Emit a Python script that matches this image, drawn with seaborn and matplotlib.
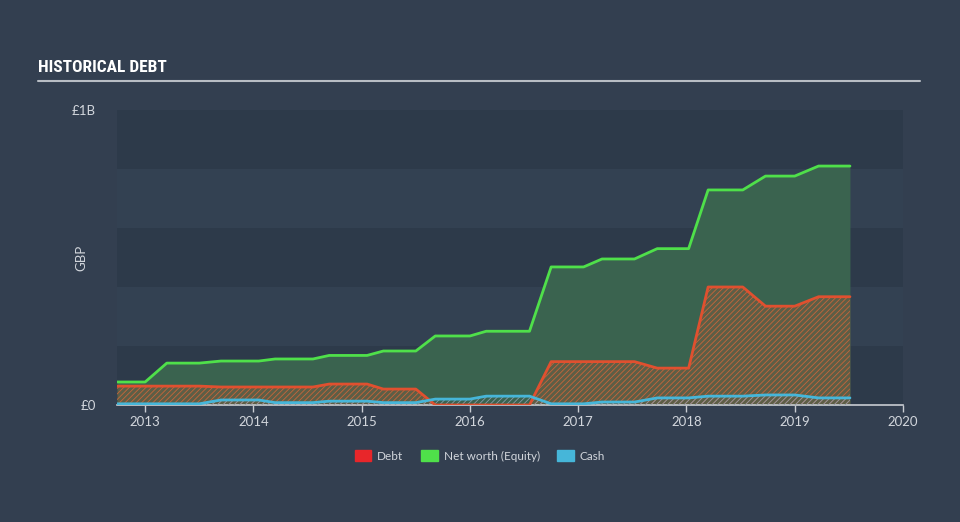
import matplotlib
matplotlib.use("Agg")
import matplotlib.pyplot as plt
import matplotlib.patches as mpatches
from matplotlib import font_manager as fm
import seaborn as sns
import pandas as pd
import numpy as np

# ---- data (GBP millions) ----
dates = [2012.74, 2013.0, 2013.2, 2013.5, 2013.7, 2014.05, 2014.2, 2014.55, 2014.7,
         2015.05, 2015.2, 2015.5, 2015.68, 2016.0, 2016.15, 2016.55, 2016.75, 2017.05,
         2017.22, 2017.52, 2017.73, 2018.02, 2018.2, 2018.52, 2018.73, 2019.0, 2019.22, 2019.51]
net_worth = [78, 78, 142, 142, 149, 149, 156, 156, 168, 168, 183, 183, 234, 234, 250, 250,
             468, 468, 495, 495, 530, 530, 729, 729, 776, 776, 810, 810]
debt = [64, 64, 64, 64, 61, 61, 61, 61, 71, 71, 54, 54, 0, 0, 0, 0,
        147, 147, 147, 147, 125, 125, 400, 400, 335, 335, 367, 367]
cash = [4, 4, 4, 4, 17, 17, 8, 8, 13, 13, 8, 8, 20, 20, 30, 30,
        4, 4, 10, 10, 24, 24, 30, 30, 34, 34, 24, 24]
year_ticks = [2013, 2014, 2015, 2016, 2017, 2018, 2019, 2020]
y_ticks = [0, 1000]
y_labels = ["£0", "£1B"]

df = pd.DataFrame({"date": dates, "Net worth (Equity)": net_worth, "Debt": debt, "Cash": cash})
long = df.melt(id_vars="date", var_name="series", value_name="value")

BG = "#333f50"
DARK = "#2d3a4a"
LIGHT = "#334152"
GREEN = "#4fe04a"
RED = "#e0502f"
BLUE = "#46b6d9"
TXT = "#d2d6dc"

sns.set_theme(style="dark")
plt.rcParams["font.family"] = ["Lato", "DejaVu Sans"]

fig = plt.figure(figsize=(9.6, 5.22), dpi=100, facecolor=BG)
ax = fig.add_axes([117 / 960, 1 - 405 / 522, (903 - 117) / 960, (405 - 110) / 522])
ax.set_facecolor(BG)

# background bands
for i in range(5):
    ax.axhspan(i * 200, (i + 1) * 200, color=DARK if i % 2 == 0 else LIGHT, lw=0, zorder=0)

x = np.array(dates)
ax.fill_between(x, 0, net_worth, color="#3a634f", lw=0, zorder=1)
ax.fill_between(x, 0, debt, facecolor="#7a5a40", alpha=0.55, lw=0, zorder=2)
plt.rcParams["hatch.linewidth"] = 0.6
ax.fill_between(x, 0, debt, facecolor="none", edgecolor="#c8653a", hatch="//////", lw=0, zorder=2.5)
ax.fill_between(x, 0, cash, facecolor="none", edgecolor="#8a9aa8", hatch="//////", lw=0, zorder=2.6)

palette = {"Net worth (Equity)": GREEN, "Debt": RED, "Cash": BLUE}
sns.lineplot(data=long, x="date", y="value", hue="series", palette=palette,
             linewidth=2, ax=ax, legend=False, zorder=3)

ax.set_xlim(2012.74, 2020.0)
ax.set_ylim(0, 1000)
ax.set_xticks(year_ticks)
ax.set_xticklabels([str(t) for t in year_ticks], color=TXT, fontsize=9.5)
ax.set_yticks(y_ticks)
ax.set_yticklabels(y_labels, color=TXT, fontsize=9.5)
ax.tick_params(axis="x", length=5, color="#c8ccd2", width=1, pad=3, bottom=True)
ax.tick_params(axis="y", length=0, pad=15)
ax.grid(False)
for s in ["top", "right", "left"]:
    ax.spines[s].set_visible(False)
ax.spines["bottom"].set_color("#c8ccd2")
ax.spines["bottom"].set_linewidth(1.2)
ax.set_xlabel("")
ax.set_ylabel("GBP", color=TXT, fontsize=9.5)
ax.yaxis.set_label_coords((87 - 117) / 786, 0.5)

# title & underline
fam = "DejaVu Sans"
for cand in ["Liberation Sans Narrow", "DejaVu Sans Condensed", "Roboto Condensed", "Open Sans Condensed"]:
    if any(f.name == cand for f in fm.fontManager.ttflist):
        fam = cand
        break
fig.text(38 / 960, 1 - 68 / 522, "HISTORICAL DEBT", color="white", fontsize=12.5,
         fontweight="bold", fontstretch="condensed", family=fam, va="center", ha="left")
fig.add_artist(plt.Line2D([38 / 960, 920 / 960], [1 - 81 / 522, 1 - 81 / 522],
                          color="#b8bdc4", lw=1.5))

handles = [mpatches.Patch(color="#e8262a", label="Debt"),
           mpatches.Patch(color="#4fe04a", label="Net worth (Equity)"),
           mpatches.Patch(color="#46b6d9", label="Cash")]
leg = fig.legend(handles=handles, loc="center", bbox_to_anchor=(0.5, 1 - 456 / 522), ncol=3,
                 frameon=False, fontsize=8.5, handlelength=1.4, handleheight=1.0,
                 columnspacing=1.5, handletextpad=0.5)
for t in leg.get_texts():
    t.set_color(TXT)

fig.savefig("out.png", dpi=100, facecolor=BG)
